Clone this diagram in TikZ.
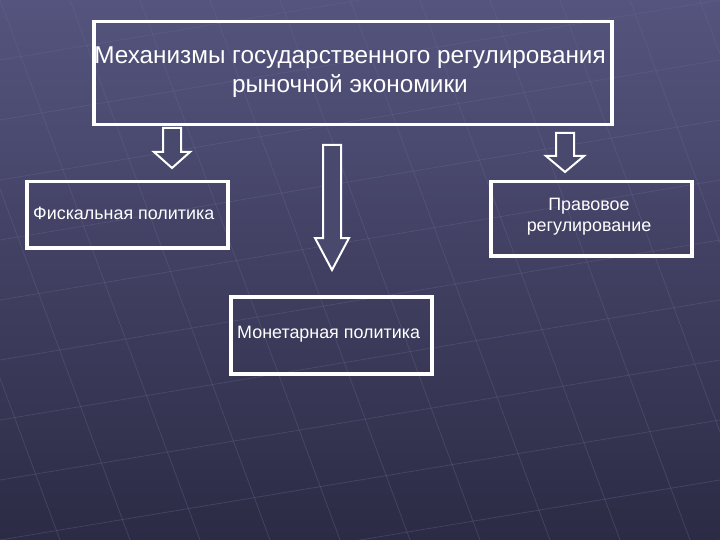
\documentclass[tikz,border=0pt]{standalone}
\usepackage{fontspec}
\setmainfont{Liberation Sans}
\definecolor{bgtop}{HTML}{55547E}
\definecolor{bgbot}{HTML}{2C2B45}
\definecolor{gridc}{HTML}{6A6990}
\begin{document}
\begin{tikzpicture}[x=1pt,y=-1pt,
  box/.style={draw=white,line width=3.5pt,fill=none,text=white,align=center,inner sep=0pt},
  blk/.style={draw=white,line width=2pt,fill=bgtop!70!bgbot,line join=miter}]
\useasboundingbox (0,0) rectangle (720,540);
\shade[top color=bgtop,bottom color=bgbot] (0,0) rectangle (720,540);
\begin{scope}[draw=gridc,opacity=0.35,line width=0.8pt]
\foreach \i in {-4,...,12} {
  \draw (\i*70,0) -- (\i*70+200,540);
  \draw (0,\i*60) -- (720,\i*60-120);
}
\end{scope}
\node[box,minimum width=518pt,minimum height=103pt,anchor=north west] (top) at (92,20) {};
\node[text=white,align=center,font=\fontsize{24.3}{29}\selectfont] at (350,72)
  {Механизмы государственного регулирования\\рыночной экономики};
\node[box,minimum width=201pt,minimum height=66pt,anchor=north west] (fisc) at (25,180) {};
\node[text=white,font=\fontsize{17.9}{21}\selectfont,anchor=west,inner sep=0pt] at (33,213) {Фискальная политика};
\node[box,minimum width=201pt,minimum height=74pt,anchor=north west] (prav) at (489,180) {};
\node[text=white,align=center,font=\fontsize{17.9}{21}\selectfont,inner sep=0pt] at (589,217) {Правовое\\регулирование};
\node[box,minimum width=201pt,minimum height=77pt,anchor=north west] (mon) at (229,295) {};
\node[text=white,font=\fontsize{17.9}{21}\selectfont,anchor=west,inner sep=0pt] at (237,334) {Монетарная политика};
% block arrows
\draw[blk] (163,128) -- (181,128) -- (181,152) -- (190,152) -- (172,168) -- (154,152) -- (163,152) -- cycle;
\draw[blk] (323,145) -- (341,145) -- (341,238) -- (349,238) -- (332,270) -- (315,238) -- (323,238) -- cycle;
\draw[blk] (556,133) -- (574,133) -- (574,156) -- (584,156) -- (565,172) -- (546,156) -- (556,156) -- cycle;
\end{tikzpicture}
\end{document}
